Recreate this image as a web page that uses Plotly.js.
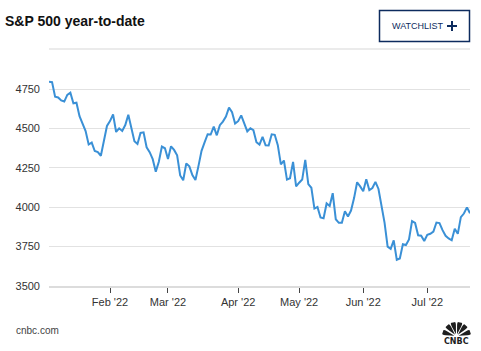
<!DOCTYPE html>
<html>
<head>
<meta charset="utf-8">
<script src="https://cdn.plot.ly/plotly-3.0.1.min.js"></script>
<style>
html,body{margin:0;padding:0;background:#fff;}
#chart{width:481px;height:351px;}
</style>
</head>
<body>
<div id="chart"></div>
<script>
// S&P 500 daily closes, 2022 year-to-date (trading days)
var dates = [
'2022-01-03','2022-01-04','2022-01-05','2022-01-06','2022-01-07','2022-01-10','2022-01-11','2022-01-12','2022-01-13','2022-01-14',
'2022-01-18','2022-01-19','2022-01-20','2022-01-21','2022-01-24','2022-01-25','2022-01-26','2022-01-27','2022-01-28','2022-01-31',
'2022-02-01','2022-02-02','2022-02-03','2022-02-04','2022-02-07','2022-02-08','2022-02-09','2022-02-10','2022-02-11','2022-02-14',
'2022-02-15','2022-02-16','2022-02-17','2022-02-18','2022-02-22','2022-02-23','2022-02-24','2022-02-25','2022-02-28',
'2022-03-01','2022-03-02','2022-03-03','2022-03-04','2022-03-07','2022-03-08','2022-03-09','2022-03-10','2022-03-11','2022-03-14',
'2022-03-15','2022-03-16','2022-03-17','2022-03-18','2022-03-21','2022-03-22','2022-03-23','2022-03-24','2022-03-25','2022-03-28',
'2022-03-29','2022-03-30','2022-03-31',
'2022-04-01','2022-04-04','2022-04-05','2022-04-06','2022-04-07','2022-04-08','2022-04-11','2022-04-12','2022-04-13','2022-04-14',
'2022-04-18','2022-04-19','2022-04-20','2022-04-21','2022-04-22','2022-04-25','2022-04-26','2022-04-27','2022-04-28','2022-04-29',
'2022-05-02','2022-05-03','2022-05-04','2022-05-05','2022-05-06','2022-05-09','2022-05-10','2022-05-11','2022-05-12','2022-05-13',
'2022-05-16','2022-05-17','2022-05-18','2022-05-19','2022-05-20','2022-05-23','2022-05-24','2022-05-25','2022-05-26','2022-05-27',
'2022-05-31',
'2022-06-01','2022-06-02','2022-06-03','2022-06-06','2022-06-07','2022-06-08','2022-06-09','2022-06-10','2022-06-13','2022-06-14',
'2022-06-15','2022-06-16','2022-06-17','2022-06-21','2022-06-22','2022-06-23','2022-06-24','2022-06-27','2022-06-28','2022-06-29',
'2022-06-30',
'2022-07-01','2022-07-05','2022-07-06','2022-07-07','2022-07-08','2022-07-11','2022-07-12','2022-07-13','2022-07-14','2022-07-15',
'2022-07-18','2022-07-19','2022-07-20','2022-07-21','2022-07-22'
];
var closes = [
4796.56,4793.54,4700.58,4696.05,4677.03,4670.29,4713.07,4726.35,4659.03,4662.85,
4577.11,4532.76,4482.73,4397.94,4410.13,4356.45,4349.93,4326.51,4431.85,4515.55,
4546.54,4589.38,4477.44,4500.53,4483.87,4521.54,4587.18,4504.08,4418.64,4401.67,
4471.07,4475.01,4380.26,4348.87,4304.76,4225.50,4288.70,4384.65,4373.94,
4306.26,4386.54,4363.49,4328.87,4201.09,4170.70,4277.88,4259.52,4204.31,4173.11,
4262.45,4357.86,4411.67,4463.12,4461.18,4511.61,4456.24,4520.16,4543.06,4575.52,
4631.60,4602.45,4530.41,
4545.86,4582.64,4525.12,4481.15,4500.21,4488.28,4412.53,4397.45,4446.59,4392.59,
4391.69,4462.21,4459.45,4393.66,4271.78,4296.12,4175.20,4183.96,4287.50,4131.93,
4155.38,4175.48,4300.17,4146.87,4123.34,3991.24,4001.05,3935.18,3930.08,4023.89,
4008.01,4088.85,3923.68,3900.79,3901.36,3973.75,3941.48,3978.73,4057.84,4158.24,
4132.15,
4101.23,4176.82,4108.54,4121.43,4160.68,4115.77,4017.82,3900.86,3749.63,3735.48,
3789.99,3666.77,3674.84,3764.79,3759.89,3795.73,3911.74,3900.11,3821.55,3818.83,
3785.38,
3825.33,3831.39,3845.08,3902.62,3899.38,3854.43,3818.80,3801.78,3790.38,3863.16,
3830.85,3936.69,3959.90,3998.95,3961.63
];
var xTickVals = ['2022-02-01','2022-03-01','2022-04-01','2022-05-02','2022-06-01','2022-07-01'];
var xTickText = ["Feb '22","Mar '22","Apr '22","May '22","Jun '22","Jul '22"];
var yTickVals = [3500,3750,4000,4250,4500,4750];
var titleText = 'S&P 500 year-to-date';

var W = 481, H = 351, ML = 49, MR = 11, MT = 80, MB = 65;
var PW = W - ML - MR, PH = H - MT - MB;
function px(x){ return (x - ML) / PW; }
function py(y){ return (H - MB - y) / PH; }

// CNBC peacock feathers (pixel-space path converted to paper coords)
var shapes = [];
var cx = 456.5, cy = 336.5, R = 14.5;
var angles = [162, 130, 104, 76, 50, 18];
angles.forEach(function(a){
  var half = 11;
  var a1 = (a - half) * Math.PI/180, a2 = (a + half) * Math.PI/180, am = a*Math.PI/180;
  var r0 = 2.2;
  var p = [];
  p.push([cx + r0*Math.cos(am), cy - r0*Math.sin(am)]);
  p.push([cx + R*0.75*Math.cos(a1), cy - R*0.75*Math.sin(a1)]);
  p.push([cx + R*Math.cos(am - 0.1), cy - R*Math.sin(am - 0.1)]);
  p.push([cx + R*Math.cos(am + 0.1), cy - R*Math.sin(am + 0.1)]);
  p.push([cx + R*0.75*Math.cos(a2), cy - R*0.75*Math.sin(a2)]);
  var s = 'M ' + px(p[0][0]) + ' ' + py(p[0][1]);
  s += ' L ' + px(p[1][0]) + ' ' + py(p[1][1]);
  s += ' Q ' + px(cx + R*1.05*Math.cos(am - 0.2)) + ' ' + py(cy - R*1.05*Math.sin(am - 0.2)) + ' ' + px(p[2][0]) + ' ' + py(p[2][1]);
  s += ' L ' + px(p[3][0]) + ' ' + py(p[3][1]);
  s += ' Q ' + px(cx + R*1.05*Math.cos(am + 0.2)) + ' ' + py(cy - R*1.05*Math.sin(am + 0.2)) + ' ' + px(p[4][0]) + ' ' + py(p[4][1]);
  s += ' Z';
  shapes.push({type:'path', xref:'paper', yref:'paper', path:s, fillcolor:'#1e1e1e', line:{width:0}});
});

// separator line under the header
shapes.push({type:'line', xref:'paper', yref:'paper', x0:px(49), x1:px(470), y0:py(49), y1:py(49), line:{color:'#ebebeb', width:2}});
// watchlist button
shapes.push({type:'rect', xref:'paper', yref:'paper', x0:px(379.5), x1:px(469.5), y0:py(10.5), y1:py(41.5), line:{color:'#0d2b5e', width:1.5}, fillcolor:'rgba(0,0,0,0)'});
shapes.push({type:'line', xref:'paper', yref:'paper', x0:px(447), x1:px(457), y0:py(26), y1:py(26), line:{color:'#0d2b5e', width:2}});
shapes.push({type:'line', xref:'paper', yref:'paper', x0:px(452), x1:px(452), y0:py(21), y1:py(31), line:{color:'#0d2b5e', width:2}});

var annotations = [
  {text:'WATCHLIST', xref:'paper', yref:'paper', x:px(390), y:py(26), xanchor:'left', yanchor:'middle', showarrow:false,
   font:{family:'Liberation Sans, Arial, sans-serif', size:9, color:'#0d2b5e'}},
  {text:'cnbc.com', xref:'paper', yref:'paper', x:px(14), y:py(330), xanchor:'left', yanchor:'middle', showarrow:false,
   font:{family:'Liberation Sans, Arial, sans-serif', size:10, color:'#444'}},
  {text:'<b>CNBC</b>', xref:'paper', yref:'paper', x:px(456.5), y:py(341), xanchor:'center', yanchor:'middle', showarrow:false,
   font:{family:'DejaVu Sans, Liberation Sans, Arial, sans-serif', size:8, color:'#1e1e1e'}}
];

var trace = {
  x: dates, y: closes, type:'scatter', mode:'lines',
  line:{color:'#3a90d6', width:2}, hoverinfo:'skip'
};

var layout = {
  width:W, height:H,
  margin:{l:ML, r:MR, t:MT, b:MB, pad:0},
  paper_bgcolor:'#fff', plot_bgcolor:'#fff',
  showlegend:false,
  title:{text:'<b>' + titleText.replace('&','&amp;') + '</b>', xref:'container', yref:'container', x:5/W, xanchor:'left', y:1-21/H, yanchor:'middle',
         font:{family:'Liberation Sans, Arial, sans-serif', size:14, color:'#111'}},
  xaxis:{type:'category', range:[0, dates.length-1], showgrid:false, zeroline:false,
         showline:true, linecolor:'#dcdcdc', linewidth:2,
         tickmode:'array', tickvals:xTickVals, ticktext:xTickText,
         ticks:'outside', ticklen:5, tickwidth:1, tickcolor:'#444',
         tickfont:{family:'Liberation Sans, Arial, sans-serif', size:11, color:'#333'}, fixedrange:true},
  yaxis:{range:[3500, 3500 + PH/0.1576], tickmode:'array', tickvals:yTickVals,
         showgrid:true, gridcolor:'#e2e2e2', gridwidth:1, zeroline:false, showline:false,
         ticks:'', ticklabelstandoff:8,
         tickfont:{family:'Liberation Sans, Arial, sans-serif', size:11, color:'#333'}, fixedrange:true},
  shapes:shapes,
  annotations:annotations
};

Plotly.newPlot('chart', [trace], layout, {displayModeBar:false, staticPlot:true});
</script>
</body>
</html>
